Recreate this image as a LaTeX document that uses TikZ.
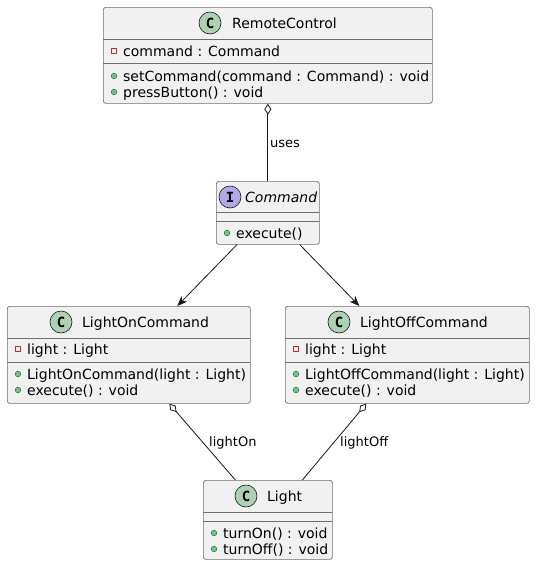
\documentclass[tikz,border=0pt]{standalone}
\usepackage{fontspec}
\setmainfont{DejaVu Sans}
\newfontfamily\iconfont{DejaVu Sans Mono}
\usetikzlibrary{arrows.meta}
\definecolor{boxfill}{HTML}{F1F1F1}
\definecolor{edge}{HTML}{181818}
\definecolor{boxedge}{HTML}{6E6E6E}
\definecolor{classic}{HTML}{ADD1B2}
\definecolor{ifaceic}{HTML}{B4A7E5}
\definecolor{privred}{HTML}{C82930}
\definecolor{pubfill}{HTML}{84BE84}
\definecolor{pubdraw}{HTML}{038048}
\tikzset{
  umlbox/.style={draw=boxedge, fill=boxfill, rounded corners=2.5pt, line width=0.7pt, inner sep=0pt, anchor=north west},
  sepline/.style={draw=boxedge, line width=0.7pt},
  member/.style={inner sep=0pt, anchor=base west, font=\fontsize{14}{16}\selectfont},
  cname/.style={inner sep=0pt, anchor=base west, font=\fontsize{14}{16}\selectfont},
  edgelabel/.style={inner sep=0pt, anchor=base west, font=\fontsize{13}{15}\selectfont},
  cicon/.style={circle, draw=edge, fill=classic, line width=0.6pt, minimum size=22pt, inner sep=0pt, font=\iconfont\bfseries\fontsize{14}{16}\selectfont},
  iicon/.style={circle, draw=edge, fill=ifaceic, line width=0.6pt, minimum size=22pt, inner sep=0pt, font=\iconfont\bfseries\fontsize{14}{16}\selectfont},
  conn/.style={draw=edge, line width=0.8pt},
  arr/.style={conn, -{Stealth[length=10pt, width=8pt, inset=3pt]}},
  agg/.style={conn, {Diamond[open, length=11pt, width=7pt, line width=0.8pt]}-},
}
% public member: name, box left x, baseline y, text
\newcommand\pubm[4]{%
  \node[member] (#1) at (#2+20,#3) {#4};
  \filldraw[fill=pubfill, draw=pubdraw, line width=0.5pt] (#2+11,#3-5) circle (2.8pt);
}
% private member
\newcommand\privm[4]{%
  \node[member] (#1) at (#2+20,#3) {#4};
  \draw[draw=privred, line width=0.7pt] (#2+8.2,#3-2.2) rectangle (#2+13.8,#3-7.8);
}
\begin{document}
\begin{tikzpicture}[x=1pt,y=-1pt]
\useasboundingbox (0,0) rectangle (535,566);

% ---------- RemoteControl ----------
\node[umlbox, minimum width=329pt, minimum height=96pt] (rc) at (103,7) {};
\draw[sepline] (103,39) -- (432,39);
\draw[sepline] (103,63) -- (432,63);
\node[cicon] (rcI) at (210,23) {C};
\node[cname] (rcN) at (232,28) {RemoteControl};
\privm{rcA}{103}{56}{command : Command}
\pubm{rcM1}{103}{81}{setCommand(command : Command) : void}
\pubm{rcM2}{103}{97}{pressButton() : void}

% ---------- Command ----------
\node[umlbox, minimum width=103pt, minimum height=63pt] (cmd) at (216,181) {};
\draw[sepline] (216,212) -- (319,212);
\draw[sepline] (216,221) -- (319,221);
\node[iicon] (cmdI) at (230,197) {I};
\node[cname, font=\itshape\fontsize{14}{16}\selectfont] (cmdN) at (245,202) {Command};
\pubm{cmdM1}{216}{238}{execute()}

% ---------- LightOnCommand ----------
\node[umlbox, minimum width=243pt, minimum height=97pt] (lon) at (7,306) {};
\draw[sepline] (7,338) -- (250,338);
\draw[sepline] (7,362) -- (250,362);
\node[cicon] (lonI) at (61,322) {C};
\node[cname] (lonN) at (82,327) {LightOnCommand};
\privm{lonA}{7}{354}{light : Light}
\pubm{lonM1}{7}{379}{LightOnCommand(light : Light)}
\pubm{lonM2}{7}{395}{execute() : void}

% ---------- LightOffCommand ----------
\node[umlbox, minimum width=244pt, minimum height=97pt] (loff) at (285,306) {};
\draw[sepline] (285,338) -- (529,338);
\draw[sepline] (285,362) -- (529,362);
\node[cicon] (loffI) at (339,322) {C};
\node[cname] (loffN) at (360,327) {LightOffCommand};
\privm{loffA}{285}{354}{light : Light}
\pubm{loffM1}{285}{379}{LightOffCommand(light : Light)}
\pubm{loffM2}{285}{395}{execute() : void}

% ---------- Light ----------
\node[umlbox, minimum width=129pt, minimum height=79pt] (light) at (203,480) {};
\draw[sepline] (203,512) -- (332,512);
\draw[sepline] (203,521) -- (332,521);
\node[cicon] (lightI) at (246,496) {C};
\node[cname] (lightN) at (267,501) {Light};
\pubm{lightM1}{203}{538}{turnOn() : void}
\pubm{lightM2}{203}{554}{turnOff() : void}

% ---------- connectors ----------
\draw[agg] (rc.south) -- (cmd.north);
\node[edgelabel] (usesL) at (270,147) {uses};

\draw[arr] ([xshift=-31pt]cmd.south) -- ([xshift=48.5pt]lon.north);
\draw[arr] ([xshift=32pt]cmd.south) -- ([xshift=-48pt]loff.north);

\draw[agg] ([xshift=40.5pt]lon.south) -- ([xshift=-32.5pt]light.north);
\node[edgelabel] (lonL) at (209,446) {lightOn};

\draw[agg] ([xshift=-41pt]loff.south) -- ([xshift=34.5pt]light.north);
\node[edgelabel] (loffL) at (340,446) {lightOff};
\end{tikzpicture}
\end{document}
